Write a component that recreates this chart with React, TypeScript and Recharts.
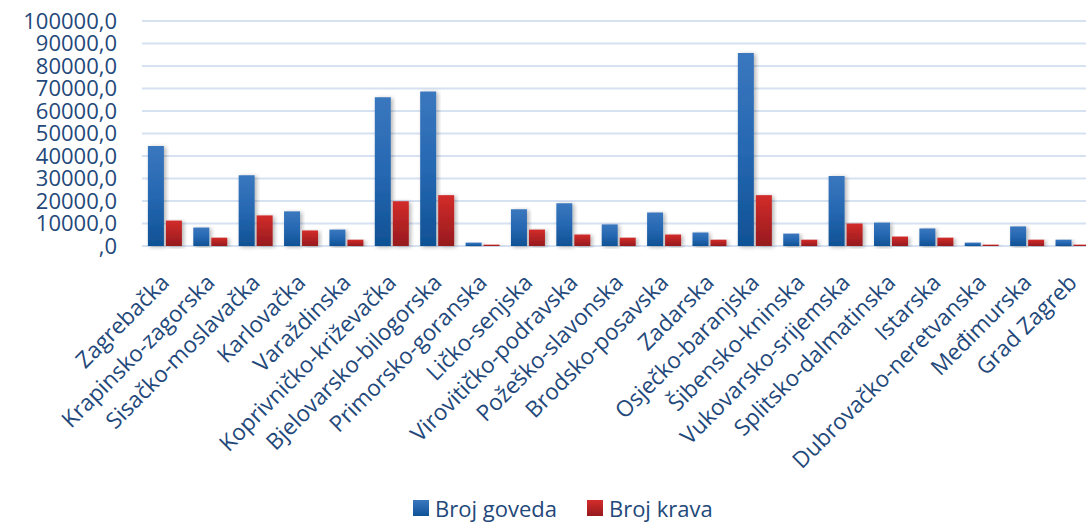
import React from 'react';
import { BarChart, Bar, XAxis, YAxis, CartesianGrid, Legend } from 'recharts';

const categories: string[] = [
  'Zagrebačka', 'Krapinsko-zagorska', 'Sisačko-moslavačka', 'Karlovačka', 'Varaždinska',
  'Koprivničko-križevačka', 'Bjelovarsko-bilogorska', 'Primorsko-goranska', 'Ličko-senjska',
  'Virovitičko-podravska', 'Požeško-slavonska', 'Brodsko-posavska', 'Zadarska',
  'Osječko-baranjska', 'Šibensko-kninska', 'Vukovarsko-srijemska', 'Splitsko-dalmatinska',
  'Istarska', 'Dubrovačko-neretvanska', 'Međimurska', 'Grad Zagreb',
];

const brojGoveda: number[] = [
  44500, 8200, 31500, 15400, 7300, 66100, 68700, 1500, 16300, 19000, 9600, 14900, 6000,
  85800, 5500, 31100, 10400, 7800, 1500, 8700, 2800,
];

const brojKrava: number[] = [
  11300, 3700, 13600, 6900, 2800, 19900, 22600, 600, 7300, 5100, 3700, 5100, 2800,
  22600, 2800, 10000, 4200, 3700, 600, 2800, 600,
];

const yTicks: number[] = [0, 10000, 20000, 30000, 40000, 50000, 60000, 70000, 80000, 90000, 100000];

const seriesNames = { goveda: 'Broj goveda', krava: 'Broj krava' };

const data = categories.map((name, i) => ({
  name,
  goveda: brojGoveda[i],
  krava: brojKrava[i],
}));

const FONT = '"Open Sans", "Noto Sans", sans-serif';
const TEXT = '#23487a';

const XTick = (props: any) => {
  const { x, y, payload } = props;
  return (
    <g transform={`translate(${x + 6},${y + 30})`}>
      <text
        textAnchor="end"
        transform="rotate(-45)"
        fill={TEXT}
        fontFamily={FONT}
        fontSize={22.5}
      >
        {payload.value}
      </text>
    </g>
  );
};

const LegendContent = (props: any) => {
  const { payload } = props;
  return (
    <div style={{ display: 'flex', height: 30, alignItems: 'center', fontFamily: FONT, fontSize: 22, color: TEXT }}>
      {(payload || []).map((p: any, i: number) => (
        <div key={i} style={{ display: 'flex', alignItems: 'center', marginRight: i === 0 ? 30 : 0 }}>
          <div
            style={{
              width: 16,
              height: 16,
              marginRight: 6,
              background: i === 0
                ? 'linear-gradient(#3a78c0, #0f5296)'
                : 'linear-gradient(#d32c2a, #961a1e)',
            }}
          />
          <span>{p.value}</span>
        </div>
      ))}
    </div>
  );
};

export default function App() {
  return (
    <div style={{ position: 'absolute', left: 0, top: 0, width: 1086, height: 523, overflow: 'hidden', background: '#fff' }}>
      <BarChart
        width={1095}
        height={523}
        data={data}
        margin={{ top: 21, right: 0, left: 0, bottom: 27 }}
        barCategoryGap="13%"
        barGap={2}
      >
        <defs>
          <linearGradient id="gBlue" x1="0" y1="0" x2="0" y2="1">
            <stop offset="0%" stopColor="#3a77be" />
            <stop offset="50%" stopColor="#2668b2" />
            <stop offset="100%" stopColor="#0f5194" />
          </linearGradient>
          <linearGradient id="gRed" x1="0" y1="0" x2="0" y2="1">
            <stop offset="0%" stopColor="#d32c2a" />
            <stop offset="100%" stopColor="#961a1e" />
          </linearGradient>
          <filter id="shadow" x="-30%" y="-5%" width="160%" height="115%">
            <feDropShadow dx="2" dy="1" stdDeviation="2" floodColor="#000" floodOpacity="0.3" />
          </filter>
        </defs>
        <CartesianGrid vertical={false} stroke="#d6e2f2" strokeWidth={2} />
        <XAxis
          dataKey="name"
          interval={0}
          axisLine={false}
          tickLine={false}
          height={220}
          tick={<XTick />}
        />
        <YAxis
          width={142}
          domain={[0, 100000]}
          ticks={yTicks}
          interval={0}
          axisLine={false}
          tickLine={false}
          tickSize={0}
          tickMargin={25}
          tickFormatter={(v: number) => (v === 0 ? ',0' : `${v},0`)}
          tick={{ fill: TEXT, fontFamily: FONT, fontSize: 22 }}
        />
        <Legend
          verticalAlign="bottom"
          content={<LegendContent />}
          wrapperStyle={{ left: 413, width: 400, bottom: 0 }}
        />
        <Bar dataKey="goveda" name={seriesNames.goveda} fill="url(#gBlue)" filter="url(#shadow)" isAnimationActive={false} />
        <Bar dataKey="krava" name={seriesNames.krava} fill="url(#gRed)" filter="url(#shadow)" isAnimationActive={false} />
      </BarChart>
    </div>
  );
}
